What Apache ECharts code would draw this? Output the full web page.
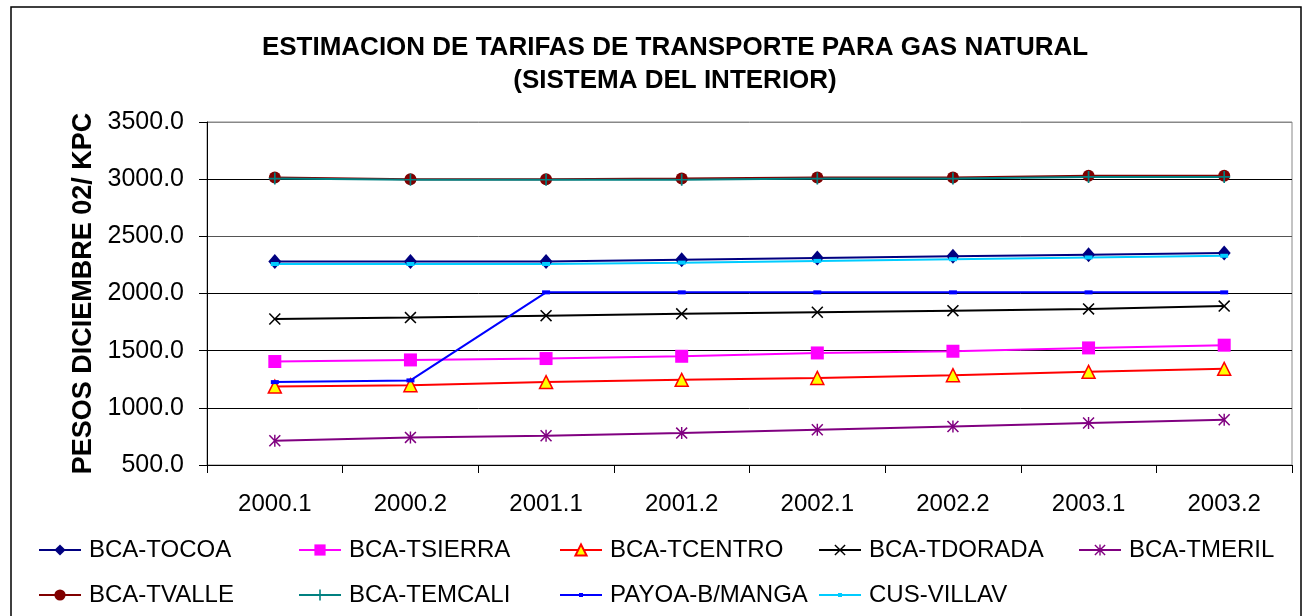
<!DOCTYPE html>
<html>
<head>
<meta charset="utf-8">
<script src="https://cdn.jsdelivr.net/npm/echarts@6/dist/echarts.min.js"></script>
<style>html,body{margin:0;padding:0;background:#fff;}#c{width:1303px;height:616px;}</style>
</head>
<body>
<div id="c"></div>
<script>
const categories = ['2000.1','2000.2','2001.1','2001.2','2002.1','2002.2','2003.1','2003.2'];
const tocoa   = [2280, 2280, 2280, 2295, 2310, 2325, 2340, 2355];
const tsierra = [1405, 1419, 1431, 1451, 1480, 1495, 1524, 1548];
const tcentro = [1186, 1198, 1225, 1245, 1262, 1286, 1315, 1341];
const tdorada = [1777, 1789, 1806, 1822, 1836, 1850, 1865, 1890];
const tmeril  = [712, 741, 756, 779, 808, 837, 867, 896];
const tvalle  = [3015, 3000, 3000, 3005, 3015, 3015, 3030, 3030];
const temcali = [3005, 2995, 2995, 2995, 3005, 3005, 3020, 3020];
const payoa   = [1225, 1240, 2010, 2010, 2010, 2010, 2010, 2010];
const villav  = [2258, 2258, 2258, 2270, 2285, 2300, 2315, 2330];
const seriesNames = ['BCA-TOCOA','BCA-TSIERRA','BCA-TCENTRO','BCA-TDORADA','BCA-TMERIL','BCA-TVALLE','BCA-TEMCALI','PAYOA-B/MANGA','CUS-VILLAV'];

const X_PATH = 'path://M0,0.9 L0.9,0 L5,4.1 L9.1,0 L10,0.9 L5.9,5 L10,9.1 L9.1,10 L5,5.9 L0.9,10 L0,9.1 L4.1,5 Z';
const PLUS_PATH = 'path://M4.3,0 H5.7 V4.3 H10 V5.7 H5.7 V10 H4.3 V5.7 H0 V4.3 H4.3 Z';
const AST_PATH = 'path://M0,0.9 L0.9,0 L5,4.1 L9.1,0 L10,0.9 L5.9,5 L10,9.1 L9.1,10 L5,5.9 L0.9,10 L0,9.1 L4.1,5 Z M4.4,0 H5.6 V10 H4.4 Z';

function mk(name, data, color, symbol, size, extra) {
  return Object.assign({
    name: name, type: 'line', data: data,
    symbol: symbol, symbolSize: size,
    lineStyle: { color: color, width: 2 },
    itemStyle: { color: color },
    emphasis: { disabled: true },
    animation: false
  }, extra || {});
}

const series = [
  mk(seriesNames[0], tocoa, '#000080', 'diamond', [13, 15]),
  mk(seriesNames[1], tsierra, '#FF00FF', 'rect', 13),
  mk(seriesNames[2], tcentro, '#FF0000', 'triangle', 13, { itemStyle: { color: '#FFFF00', borderColor: '#FF0000', borderWidth: 1.5 } }),
  mk(seriesNames[3], tdorada, '#000000', X_PATH, 12),
  mk(seriesNames[4], tmeril, '#800080', AST_PATH, 12),
  mk(seriesNames[5], tvalle, '#800000', 'circle', 12),
  mk(seriesNames[6], temcali, '#008080', PLUS_PATH, 12),
  mk(seriesNames[7], payoa, '#0000FF', 'rect', [8, 4]),
  mk(seriesNames[8], villav, '#00CCFF', 'rect', [8, 4])
];

// one legend per item so the columns sit on a fixed pitch
const colLeft = [38, 298, 559, 818, 1078];
const rowTop = [538, 583];
const legendIconH = [14, 14, 14, 14, 14, 14, 14, 5, 5];
const legends = seriesNames.map(function (name, i) {
  return {
    orient: 'horizontal',
    left: colLeft[i % 5], top: rowTop[Math.floor(i / 5)],
    itemWidth: 42, itemHeight: legendIconH[i], padding: 0,
    data: [name],
    textStyle: { fontFamily: 'Liberation Sans, Arial', fontSize: 24, color: '#000', padding: [0, 0, 0, 3] },
    selectedMode: false
  };
});

const chart = echarts.init(document.getElementById('c'), null, { renderer: 'canvas' });
chart.setOption({
  backgroundColor: '#fff',
  animation: false,
  title: {
    text: 'ESTIMACION DE TARIFAS DE TRANSPORTE PARA GAS NATURAL\n(SISTEMA DEL INTERIOR)',
    left: 670, top: 26, textAlign: 'center',
    textStyle: { fontFamily: 'Liberation Sans, Arial', fontWeight: 'bold', fontSize: 26, lineHeight: 33, color: '#000' }
  },
  grid: { left: 207, right: 11, top: 122, bottom: 151, show: true, borderColor: '#888', borderWidth: 1, backgroundColor: 'transparent' },
  legend: legends,
  xAxis: {
    type: 'category', data: categories, boundaryGap: true,
    axisLine: { lineStyle: { color: '#000', width: 1 } },
    axisTick: { show: true, length: 8, lineStyle: { color: '#000' } },
    axisLabel: { margin: 27, fontFamily: 'Liberation Sans, Arial', fontSize: 24, color: '#000' },
    splitLine: { show: false }
  },
  yAxis: {
    type: 'value', min: 500, max: 3500, interval: 500,
    name: 'PESOS DICIEMBRE 02/ KPC', nameLocation: 'middle', nameGap: 110, nameRotate: 90,
    nameTextStyle: { fontFamily: 'Liberation Sans, Arial', fontWeight: 'bold', fontSize: 27, color: '#000' },
    axisLine: { show: true, lineStyle: { color: '#000', width: 1 } },
    axisTick: { show: true, length: 8, lineStyle: { color: '#000' } },
    axisLabel: { margin: 23, fontFamily: 'Liberation Sans, Arial', fontSize: 25, color: '#000', formatter: function (v) { return v.toFixed(1); } },
    splitLine: { show: true, lineStyle: { color: ['#000', '#000', '#000', '#000', '#555', '#000', '#888'], width: 1 } }
  },
  graphic: [{
    type: 'rect', silent: true, z: -1,
    shape: { x: 11, y: 7, width: 1290, height: 620 },
    style: { fill: null, stroke: '#000', lineWidth: 1.5 }
  }],
  series: series
});
</script>
</body>
</html>
